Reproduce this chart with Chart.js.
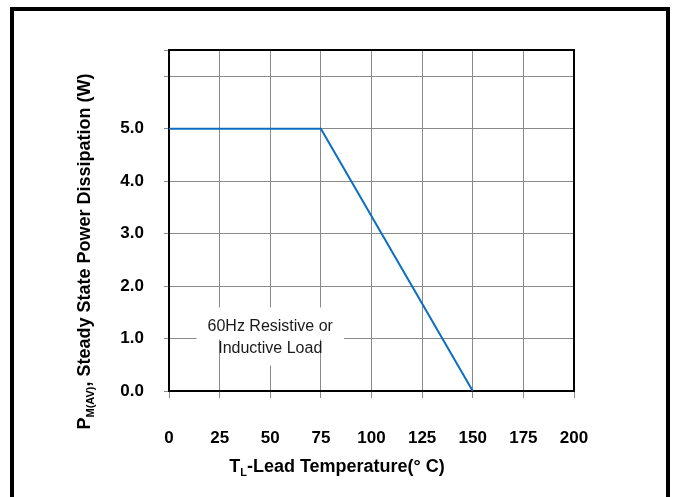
<!DOCTYPE html>
<html>
<head>
<meta charset="utf-8">
<script src="https://cdn.jsdelivr.net/npm/chart.js@4/dist/chart.umd.min.js"></script>
<style>
  html, body { margin: 0; padding: 0; background: #fff; }
  #wrap { position: relative; width: 674px; height: 497px; overflow: hidden; }
  #frame {
    position: absolute; left: 10px; top: 7px; width: 652px; height: 520px;
    border: 4px solid #000; border-bottom: none; pointer-events: none;
  }
  canvas { position: absolute; left: 0; top: 0; }
</style>
</head>
<body>
<div id="wrap">
  <canvas id="chart" width="674" height="497"></canvas>
  <div id="frame"></div>
</div>
<script>
// --- data ---
const temps = [0, 75, 150];
const power = [5.0, 5.0, 0.0];
const xTicks = [0, 25, 50, 75, 100, 125, 150, 175, 200];
const yLabels = ['0.0', '1.0', '2.0', '3.0', '4.0', '5.0'];
const noteLines = ['60Hz Resistive or', 'Inductive Load'];

const FONT = "'Liberation Sans', Arial, Helvetica, sans-serif";
const GRID = '#8a8a8a';
const LINE = '#0a6fc2';

// draws text with subscript parts, centered on x
function drawRich(ctx, parts, x, y, size) {
    const subSize = Math.round(size * 0.62);
    let total = 0;
    parts.forEach(p => {
        ctx.font = `bold ${p.sub ? subSize : size}px ${FONT}`;
        p.w = ctx.measureText(p.t).width;
        total += p.w;
    });
    let cx = x - total / 2;
    ctx.textAlign = 'left';
    ctx.textBaseline = 'alphabetic';
    parts.forEach(p => {
        ctx.font = `bold ${p.sub ? subSize : size}px ${FONT}`;
        ctx.fillText(p.t, cx, y + (p.sub ? 4 : 0));
        cx += p.w;
    });
}

const decorPlugin = {
    id: 'decor',
    beforeDatasetsDraw(chart) {
        // note box: white backing masks the grid behind each text line
        const { ctx, scales } = chart;
        const cx = scales.x.getPixelForValue(50);
        const cy = scales.y.getPixelForValue(1.0);
        ctx.save();
        ctx.font = `16px ${FONT}`;
        const w1 = ctx.measureText(noteLines[0]).width;
        const w2 = ctx.measureText(noteLines[1]).width;
        ctx.fillStyle = '#fff';
        ctx.fillRect(cx - w1 / 2 - 11, cy - 31, w1 + 22, 32);
        ctx.fillRect(cx - w2 / 2 + 6, cy - 1, w2 - 12, 28);
        ctx.fillStyle = '#1a1a1a';
        ctx.textAlign = 'center';
        ctx.textBaseline = 'middle';
        ctx.fillText(noteLines[0], cx, cy - 12);
        ctx.fillText(noteLines[1], cx, cy + 10);
        ctx.restore();
    },
    afterDraw(chart) {
        const { ctx, chartArea: a } = chart;
        ctx.save();
        // top and right edges of the plot box
        ctx.strokeStyle = '#000';
        ctx.lineWidth = 2;
        ctx.beginPath();
        ctx.moveTo(a.left, a.top);
        ctx.lineTo(a.right, a.top);
        ctx.lineTo(a.right, a.bottom);
        ctx.stroke();

        ctx.fillStyle = '#000';
        // x title
        drawRich(ctx, [
            { t: 'T' }, { t: 'L', sub: true }, { t: '-Lead Temperature(\u00b0 C)' }
        ], chart.width / 2, 472, 18);
        // y title (rotated)
        ctx.translate(90, chart.height / 2 + 3);
        ctx.rotate(-Math.PI / 2);
        drawRich(ctx, [
            { t: 'P' }, { t: 'M(AV)', sub: true }, { t: ', Steady State Power Dissipation (W)' }
        ], 0, 0, 18);
        ctx.restore();
    }
};

new Chart(document.getElementById('chart'), {
    type: 'line',
    data: {
        datasets: [{
            data: temps.map((t, i) => ({ x: t, y: power[i] })),
            borderColor: LINE,
            borderWidth: 2,
            pointRadius: 0,
            tension: 0,
            fill: false
        }]
    },
    options: {
        responsive: false,
        animation: false,
        devicePixelRatio: 1,
        layout: { padding: { left: 0, top: 50, right: 100, bottom: 0 } },
        plugins: { legend: { display: false }, tooltip: { enabled: false } },
        scales: {
            x: {
                type: 'linear',
                min: xTicks[0],
                max: xTicks[xTicks.length - 1],
                afterBuildTicks: s => { s.ticks = xTicks.map(v => ({ value: v })); },
                afterFit: s => { s.height = 106; },
                grid: { color: GRID, lineWidth: 1, tickLength: 7, tickColor: GRID },
                border: { color: '#000', width: 2 },
                ticks: {
                    color: '#000',
                    padding: 30,
                    maxRotation: 0,
                    autoSkip: false,
                    font: { family: FONT, size: 17, weight: 'bold' },
                    callback: v => String(v)
                }
            },
            y: {
                min: 0,
                max: 6.5,
                afterBuildTicks: s => {
                    s.ticks = [0, 1, 2, 3, 4, 5, 6, 6.5].map(v => ({ value: v }));
                },
                afterFit: s => { s.width = 169; },
                grid: { color: GRID, lineWidth: 1, tickLength: 5, tickColor: GRID },
                border: { color: '#000', width: 2 },
                ticks: {
                    color: '#000',
                    padding: 20,
                    autoSkip: false,
                    font: { family: FONT, size: 17, weight: 'bold' },
                    callback: v => yLabels[v] !== undefined && Number.isInteger(v) ? yLabels[v] : ''
                }
            }
        }
    },
    plugins: [decorPlugin]
});
</script>
</body>
</html>
